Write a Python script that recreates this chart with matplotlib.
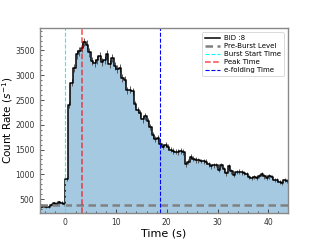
import numpy as np
import matplotlib.pyplot as plt
from matplotlib.ticker import AutoMinorLocator

# light curve, 0.5 s bins (bin start times)
t_start = -5.0
bin_size = 0.5
rate = [340, 360, 350, 345, 390, 420, 410, 440, 430, 400,
        900, 2400, 2850, 3150, 3420, 3480, 3560, 3670, 3620, 3460,
        3290, 3250, 3300, 3390, 3260, 3300, 3420, 3220, 3350, 3180,
        3120, 3150, 2950, 2900, 2700, 2710, 2680, 2420, 2300, 2230,
        2110, 2170, 2080, 1960, 1800, 1720, 1740, 1620, 1560, 1600,
        1550, 1500, 1470, 1460, 1450, 1470, 1450, 1200, 1250, 1360,
        1320, 1290, 1280, 1270, 1260, 1250, 1200, 1160, 1180, 1190,
        1090, 1190, 1100, 1020, 1160, 1060, 990, 1050, 1055, 1040,
        1030, 1010, 940, 920, 950, 920, 970, 1010, 960, 920,
        960, 950, 890, 880, 840, 820, 880, 870]
rate_err = [26, 27, 26, 26, 28, 29, 29, 30, 29, 28,
            42, 69, 75, 79, 83, 83, 84, 86, 85, 83,
            81, 81, 81, 82, 81, 81, 83, 80, 82, 80,
            79, 79, 77, 76, 73, 74, 73, 70, 68, 67,
            65, 66, 64, 63, 60, 59, 59, 57, 56, 57,
            56, 55, 54, 54, 54, 54, 54, 49, 50, 52,
            51, 51, 51, 50, 50, 50, 49, 48, 49, 49,
            47, 49, 47, 45, 48, 46, 44, 46, 46, 46,
            45, 45, 43, 43, 44, 43, 44, 45, 44, 43,
            44, 44, 42, 42, 41, 40, 42, 42]

burst_id = 8
pre_burst_level = 390
burst_start = 0.0
peak_time = 3.3
efold_time = 18.7

rate = np.array(rate)
t = t_start + bin_size * np.arange(len(rate))
t_edges = np.append(t, t[-1] + bin_size)
rate_steps = np.append(rate, rate[-1])

fig = plt.figure(figsize=(3.2, 2.4), dpi=100)
ax = fig.add_axes([0.125, 0.1125, 0.775, 0.77])

ax.fill_between(t_edges, rate_steps, 0, step='post', color='#a6c9e2', lw=0)
ax.errorbar(t + bin_size / 2, rate, yerr=rate_err, fmt='none',
            ecolor='#555555', elinewidth=0.7)
ax.step(t_edges, rate_steps, where='post', color='black', lw=1.1,
        label=f'BID :{burst_id}')
ax.axhline(pre_burst_level, color='gray', ls='--', lw=1.8, dashes=(3, 1.8),
           label='Pre-Burst Level')
ax.axvline(burst_start, color='cyan', ls='--', lw=0.8, label='Burst Start Time')
ax.axvline(peak_time, color='red', ls='--', lw=1.1, alpha=0.7, label='Peak Time')
ax.axvline(efold_time, color='blue', ls='--', lw=0.8, label='e-folding Time')

ax.set_xlim(-5, 43.9)
ax.set_ylim(220, 3950)
ax.set_yticks([500, 1000, 1500, 2000, 2500, 3000, 3500])
ax.set_xticks([0, 10, 20, 30, 40])
ax.xaxis.set_minor_locator(AutoMinorLocator(5))
ax.yaxis.set_minor_locator(AutoMinorLocator(5))
ax.tick_params(which='both', direction='in', labelsize=5.5, colors='#333333')
ax.tick_params(which='major', length=3, width=0.6)
ax.tick_params(which='minor', length=1.5, width=0.5)
ax.tick_params(axis='y', which='major', pad=4)
for s in ax.spines.values():
    s.set_color('#888888')
    s.set_linewidth(1.0)

ax.set_xlabel('Time (s)', fontsize=8, labelpad=1)
ax.set_ylabel('Count Rate ($s^{-1}$)', fontsize=7.5)
ax.yaxis.set_label_coords(-0.1, 0.5)
leg = ax.legend(loc='upper right', fontsize=5, handlelength=2.2,
                borderpad=0.4, labelspacing=0.3, handletextpad=0.6,
                framealpha=1, borderaxespad=0.6)
leg.get_frame().set_linewidth(0.5)

fig.savefig('out.png', dpi=100)
